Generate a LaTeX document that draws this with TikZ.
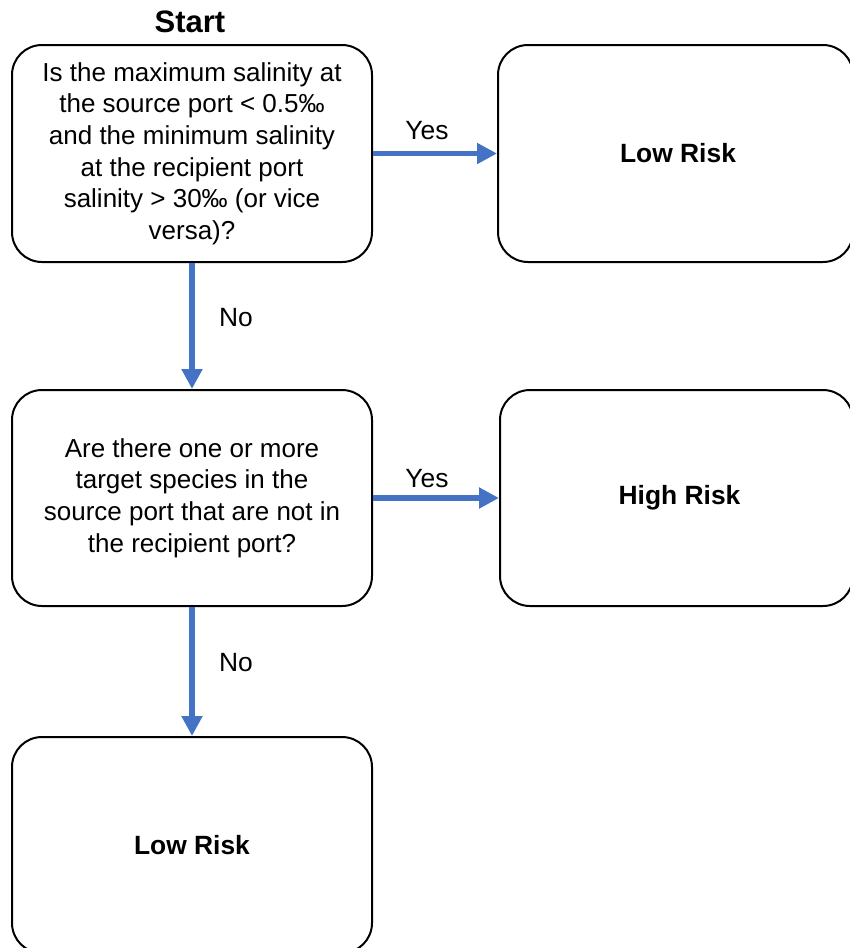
\documentclass[tikz,border=0pt]{standalone}
\usepackage{fontspec}
\setmainfont{Liberation Sans}
\usetikzlibrary{arrows.meta}
\definecolor{arrblue}{RGB}{68,114,196}
\begin{document}
\begin{tikzpicture}[x=0.5pt,y=-0.5pt,
  box/.style={draw=black, line width=1pt, rounded corners=15pt, fill=white, inner sep=0pt, align=center, font=\fontsize{13pt}{15.8pt}\selectfont},
  bigbox/.style={box, font=\fontsize{13.2pt}{15.8pt}\selectfont\bfseries},
  flow/.style={draw=arrblue, line width=2.6pt, -{Triangle[length=10pt,width=10pt]}},
  lbl/.style={font=\fontsize{13.2pt}{15pt}\selectfont, inner sep=0pt}]
\useasboundingbox (0,0) rectangle (850,948);
\clip (0,0) rectangle (850,948);
\node[font=\fontsize{15.5pt}{18pt}\selectfont\bfseries, inner sep=0pt] (start) at (190,22) {Start};
\node[box, minimum width=180pt, minimum height=108.5pt] (q1) at (192,153.5)
  {Is the maximum salinity at\\the source port < 0.5‰\\and the minimum salinity\\at the recipient port\\salinity > 30‰ (or vice\\versa)?};
\node[bigbox, minimum width=177.5pt, minimum height=108.5pt] (low1) at (675.5,153.5) {\hspace*{2.5pt}Low Risk};
\node[box, minimum width=180pt, minimum height=108pt] (q2) at (192,498)
  {Are there one or more\\target species in the\\source port that are not in\\the recipient port?};
\node[bigbox, minimum width=176.5pt, minimum height=108pt] (high) at (676.5,498) {\hspace*{3pt}High Risk};
\node[bigbox, minimum width=180pt, minimum height=108pt] (low2) at (192,845) {Low Risk};
\draw[flow] (q1.east) -- (low1.west);
\draw[flow] (q2.east) -- (high.west);
\draw[flow] (q1.south) -- (q2.north);
\draw[flow] (q2.south) -- (low2.north);
\node[lbl] (y1) at (427,131) {Yes};
\node[lbl] (y2) at (427,479) {Yes};
\node[lbl] (n1) at (236,318) {No};
\node[lbl] (n2) at (236,663) {No};
\end{tikzpicture}
\end{document}
